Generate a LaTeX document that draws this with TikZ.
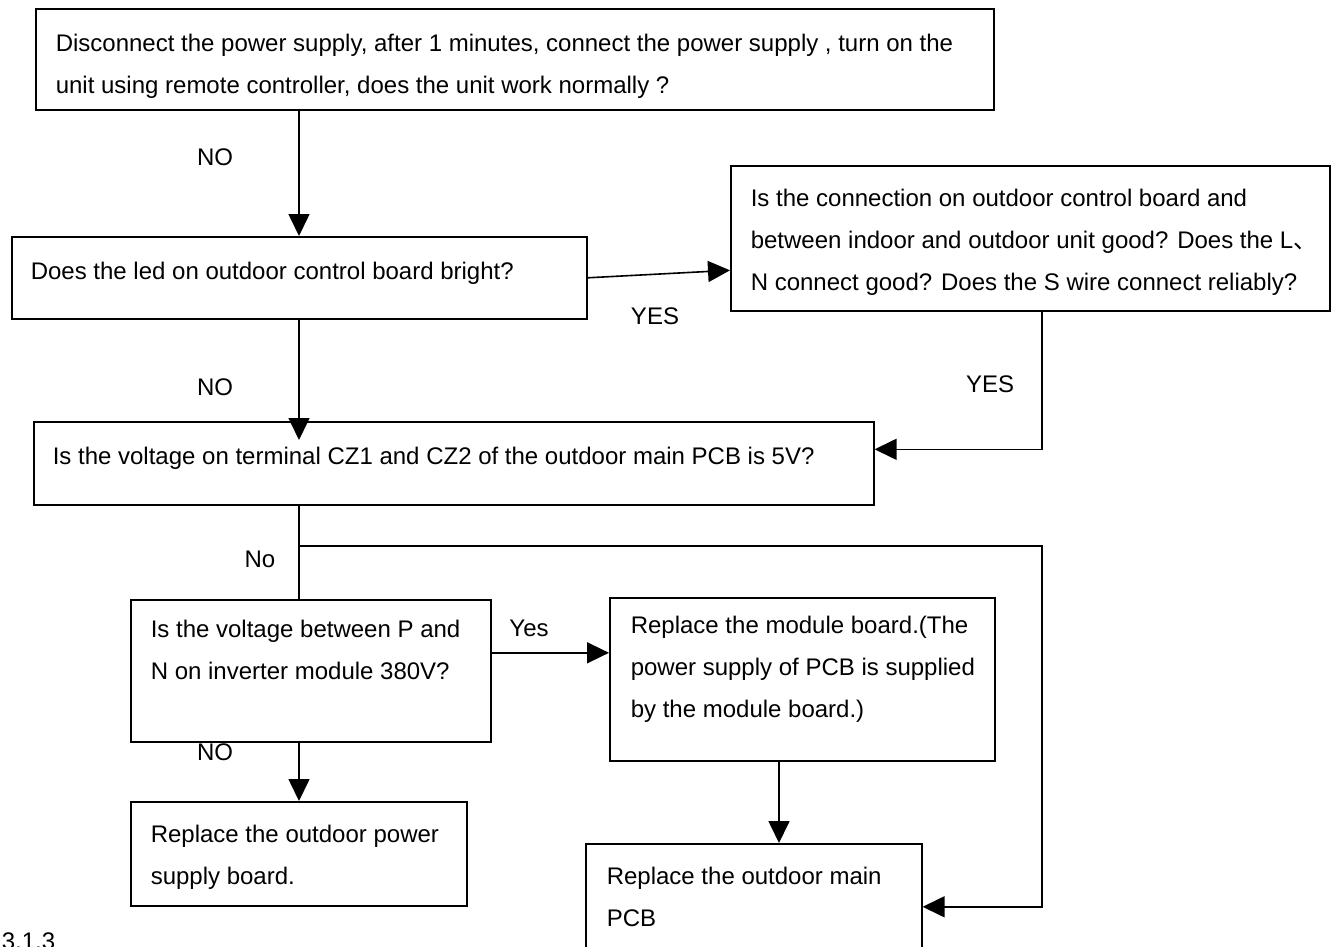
\documentclass[tikz,border=0pt]{standalone}
\usepackage{fontspec}
\setmainfont{Liberation Sans}
\newfontfamily\cjk{Noto Sans CJK SC}
\usetikzlibrary{arrows.meta, positioning}

\begin{document}
\begin{tikzpicture}[x=1pt, y=-1pt, line width=1.6pt,
  box/.style={draw, inner sep=0pt, anchor=north west},
  txt/.style={inner sep=0pt, align=left, font=\fontsize{24}{42}\selectfont},
  lbl/.style={inner sep=0pt, font=\fontsize{24}{42}\selectfont},
  arr/.style={-{Triangle[length=22pt, width=21pt]}}]
\useasboundingbox (0,0) rectangle (1335,946);
\clip (0,0) rectangle (1335,946);
\coordinate (trunk) at (299,0);
\coordinate (rt) at (1042,0);
\coordinate (mid) at (779,0);
\coordinate (split) at (299,546);

\node[box, minimum width=958pt, minimum height=101pt] (b1) at (35,8) {};
\node[box, minimum width=575pt, minimum height=82pt] (b2) at (11,236) {};
\node[box, minimum width=599pt, minimum height=145pt] (b3) at (730,165) {};
\node[box, minimum width=840pt, minimum height=83pt] (b4) at (33,421) {};
\node[box, minimum width=360pt, minimum height=142pt] (b5) at (130,599) {};
\node[box, minimum width=385pt, minimum height=163pt] (b6) at (609,597) {};
\node[box, minimum width=336pt, minimum height=126pt] (b7) at (585,843) {};
\node[box, minimum width=336pt, minimum height=104pt] (b8) at (130,801) {};

\node[txt, below right=25pt and 20pt of b1.north west] (t1) {Disconnect the power supply, after 1 minutes, connect the power supply , turn on the\\unit using remote controller, does the unit work normally ?};
\node[txt, below right=25pt and 19pt of b2.north west] (t2) {Does the led on outdoor control board bright?};
\node[txt, below right=23pt and 20pt of b3.north west] (t3) {Is the connection on outdoor control board and\\between indoor and outdoor unit good? Does the L{\cjk 、}\\N connect good? Does the S wire connect reliably?};
\node[txt, below right=25pt and 19pt of b4.north west] (t4) {Is the voltage on terminal CZ1 and CZ2 of the outdoor main PCB is 5V?};
\node[txt, below right=20pt and 20pt of b5.north west] (t5) {Is the voltage between P and\\N on inverter module 380V?};
\node[txt, below right=18pt and 21pt of b6.north west] (t6) {Replace the module board.(The\\power supply of PCB is supplied\\by the module board.)};
\node[txt, below right=23pt and 21pt of b7.north west] (t7) {Replace the outdoor main\\PCB};
\node[txt, below right=23pt and 20pt of b8.north west] (t8) {Replace the outdoor power\\supply board.};

\node[lbl] (no1) at (215,157) {NO};
\node[lbl] (yes1) at (655,316) {YES};
\node[lbl] (yes2) at (990,384) {YES};
\node[lbl] (no2) at (215,387) {NO};
\node[lbl] (no3) at (260,559) {No};
\node[lbl] (yes3) at (529,628) {Yes};
\node[lbl] (no4) at (215,752) {NO};
\node[lbl, anchor=west] (sec) at (1,941) {3.1.3};

\draw[arr] (b1.south -| trunk) -- (b2.north -| trunk);
\draw[arr] (b2.east) -- ([yshift=-32pt]b3.west);
\draw[arr] (b3.south -| rt) |- ([yshift=14pt]b4.east);
\draw[arr, shorten >=-19pt] (b2.south -| trunk) -- (b4.north -| trunk);
\draw (b4.south -| trunk) -- (b5.north -| trunk);
\draw[arr] (split) -- (split -| rt) |- (b7.east);
\draw[arr] ([yshift=18pt]b5.east) -- ([yshift=18pt]b5.east -| b6.west);
\draw[arr] (b6.south -| mid) -- (b7.north -| mid);
\draw[arr] (b5.south -| trunk) -- (b8.north -| trunk);
\end{tikzpicture}
\end{document}
